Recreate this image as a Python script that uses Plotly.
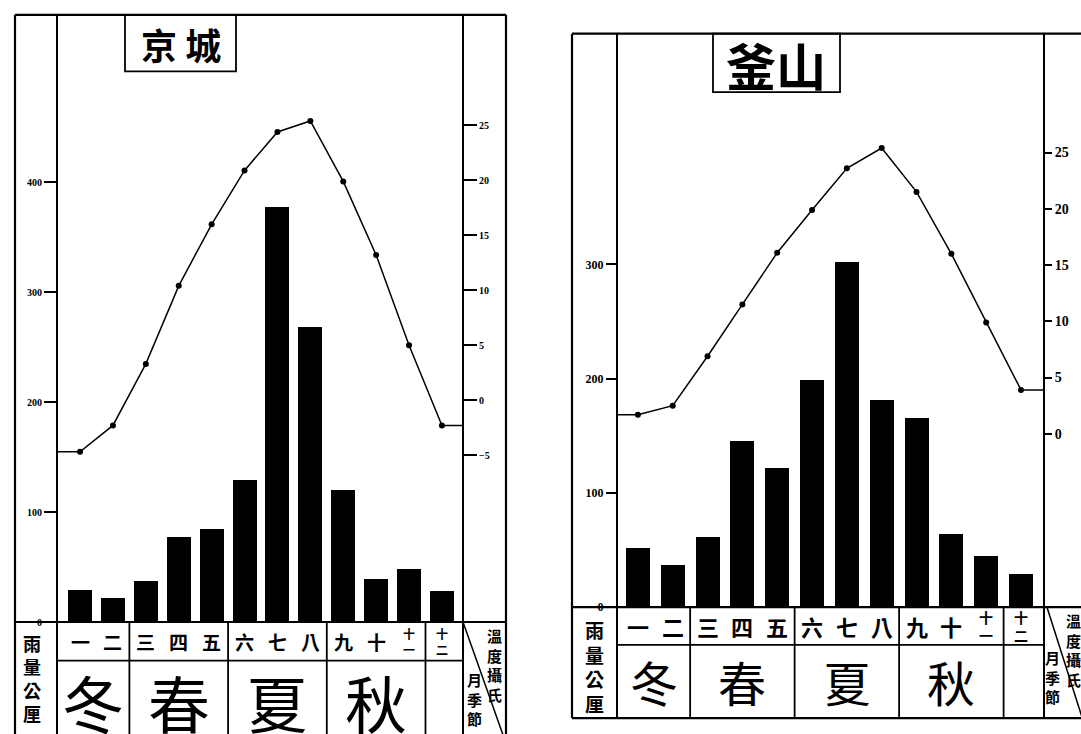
import plotly.graph_objects as go

W, H = 1081, 734

# ---- data -------------------------------------------------------------
months = list(range(1, 13))
month_labels = ["一", "二", "三", "四", "五", "六", "七", "八", "九", "十", "十<br>一", "十<br>二"]
seasons = ["冬", "春", "夏", "秋"]
season_edges = [2.5, 5.5, 8.5, 11.5]          # boundaries between season groups

# 京城: monthly rainfall (mm) and mean temperature (°C)
seoul_rain = [29, 22, 37, 77, 85, 129, 377, 268, 120, 39, 48, 28]
seoul_temp = [-4.7, -2.3, 3.3, 10.4, 16.0, 20.9, 24.4, 25.4, 19.9, 13.2, 5.0, -2.3]

# 釜山
busan_rain = [52, 37, 62, 146, 122, 199, 302, 182, 166, 64, 45, 29]
busan_temp = [1.7, 2.5, 6.9, 11.5, 16.1, 19.9, 23.6, 25.4, 21.5, 16.0, 9.9, 3.9]

seoul_rain_ticks = [0, 100, 200, 300, 400]
seoul_temp_ticks = [-5, 0, 5, 10, 15, 20, 25]
busan_rain_ticks = [0, 100, 200, 300]
busan_temp_ticks = [0, 5, 10, 15, 20, 25]

CJK = "Noto Sans CJK TC"
NUM = "Liberation Serif"
INK = "black"


def px(x):
    return x / W


def py(y):
    return 1 - y / H


panels = [
    dict(title="京 城", rain=seoul_rain, temp=seoul_temp, xa="x", ya="y", ya2="y2",
         left=15, right=506, axl=57, axr=463, top=15, table=628, mrow=667, bottom=770,
         xr=(0.30, 12.64), rr=(0, 552), tr=(-20.18, 35.05), bw=0.73,
         rticks=seoul_rain_ticks, tticks=seoul_temp_ticks,
         tbox=(125, 15, 236, 72), tsize=36, tpos=(181, 44),
         mfont=19, sfont_stack=12, sfont=62, sy=709,
         rfont=10, tfont=10, rlen=12, tlen=13,
         lcol_font=18, lcol_x=32, lcol_y=635,
         temp_lab=(494, 630, 15), month_lab=(474, 674, 15), diag=((463, 628), (503, 742))),
    dict(title="釜山", rain=busan_rain, temp=busan_temp, xa="x3", ya="y3", ya2="y4",
         left=572, right=None, axl=617, axr=1044, top=34, table=613, mrow=651, bottom=725,
         xr=(0.40, 12.66), rr=(0, 502), tr=(-15.4, 35.56), bw=0.69,
         rticks=busan_rain_ticks, tticks=busan_temp_ticks,
         tbox=(713, 34, 840, 93), tsize=50, tpos=(776, 65),
         mfont=22, sfont_stack=14, sfont=48, sy=688,
         rfont=12, tfont=14, rlen=10, tlen=7,
         lcol_font=19, lcol_x=594, lcol_y=621,
         temp_lab=(1073, 615, 15), month_lab=(1052, 652, 15), diag=((1047, 613), (1082, 724))),
]

fig = go.Figure()
shapes, annotations = [], []


def line(x0, y0, x1, y1, w=2.0, xref="paper"):
    shapes.append(dict(type="line", xref=xref, yref="paper",
                       x0=x0, y0=y0, x1=x1, y1=y1,
                       line=dict(color=INK, width=w)))


for p in panels:
    xa, ya, ya2 = p["xa"], p["ya"], p["ya2"]
    xlo, xhi = p["xr"]

    # rainfall bars
    fig.add_trace(go.Bar(x=months, y=p["rain"], width=p["bw"], xaxis=xa, yaxis=ya,
                         marker=dict(color=INK, line=dict(width=0))))
    # temperature curve, carried flat out to both axes
    fig.add_trace(go.Scatter(x=[xlo] + months + [xhi],
                             y=[p["temp"][0]] + p["temp"] + [p["temp"][-1]],
                             xaxis=xa, yaxis=ya2, mode="lines",
                             line=dict(color=INK, width=1.5), cliponaxis=False))
    fig.add_trace(go.Scatter(x=months, y=p["temp"], xaxis=xa, yaxis=ya2, mode="markers",
                             marker=dict(color=INK, size=6), cliponaxis=False))

    # frame
    right_edge = p["right"] if p["right"] is not None else W + 5
    line(px(p["left"]), py(p["top"]), px(right_edge), py(p["top"]), 2.2)
    line(px(p["left"]), py(p["top"]), px(p["left"]), py(p["bottom"]), 2.2)
    if p["right"] is not None:
        line(px(p["right"]), py(p["top"]), px(p["right"]), py(p["bottom"]), 2.2)
    else:
        line(px(p["left"]), py(p["bottom"]), px(right_edge), py(p["bottom"]), 2.2)
    line(px(p["axl"]), py(p["top"]), px(p["axl"]), py(p["bottom"]), 2.0)
    line(px(p["axr"]), py(p["top"]), px(p["axr"]), py(p["bottom"]), 2.0)

    # month / season table
    line(px(p["left"]), py(p["table"]), px(right_edge), py(p["table"]), 2.2)
    line(px(p["axl"]), py(p["mrow"]), px(p["axr"]), py(p["mrow"]), 1.8)
    for e in season_edges:
        shapes.append(dict(type="line", xref=xa, yref="paper", x0=e, x1=e,
                           y0=py(p["table"]), y1=py(p["bottom"]),
                           line=dict(color=INK, width=1.8)))
    (dx0, dy0), (dx1, dy1) = p["diag"]
    line(px(dx0), py(dy0), px(dx1), py(dy1), 1.5)

    # title box
    bx0, by0, bx1, by1 = p["tbox"]
    shapes.append(dict(type="rect", xref="paper", yref="paper",
                       x0=px(bx0), y0=py(by0), x1=px(bx1), y1=py(by1),
                       line=dict(color=INK, width=1.8)))
    annotations.append(dict(text=p["title"], xref="paper", yref="paper",
                            x=px(p["tpos"][0]), y=py(p["tpos"][1]), showarrow=False,
                            xanchor="center", yanchor="middle",
                            font=dict(family=CJK, size=p["tsize"], color=INK, weight="bold")))

    # month labels
    mid_y = (p["table"] + p["mrow"]) / 2
    for m, lab in zip(months, month_labels):
        stacked = "<br>" in lab
        annotations.append(dict(text=lab, xref=xa, yref="paper", x=m,
                                y=py(mid_y), showarrow=False,
                                xanchor="center", yanchor="middle",
                                font=dict(family=CJK, size=p["sfont_stack"] if stacked else p["mfont"],
                                          color=INK, weight="bold")))

    # season labels
    edges = [xlo] + season_edges
    for i, s in enumerate(seasons):
        annotations.append(dict(text=s, xref=xa, yref="paper",
                                x=(edges[i] + edges[i + 1]) / 2, y=py(p["sy"]),
                                showarrow=False, xanchor="center", yanchor="middle",
                                font=dict(family=CJK, size=p["sfont"], color=INK)))

    # side column captions
    annotations.append(dict(text="雨<br>量<br>公<br>厘", xref="paper", yref="paper",
                            x=px(p["lcol_x"]), y=py(p["lcol_y"]), showarrow=False,
                            xanchor="center", yanchor="top", borderpad=0,
                            font=dict(family=CJK, size=p["lcol_font"], color=INK, weight="bold")))
    tx, ty, ts = p["temp_lab"]
    annotations.append(dict(text="溫<br>度<br>攝<br>氏", xref="paper", yref="paper",
                            x=px(tx), y=py(ty), showarrow=False, borderpad=0,
                            xanchor="center", yanchor="top",
                            font=dict(family=CJK, size=ts, color=INK, weight="bold")))
    mx, my, ms = p["month_lab"]
    annotations.append(dict(text="月<br>季<br>節", xref="paper", yref="paper",
                            x=px(mx), y=py(my), showarrow=False, borderpad=0,
                            xanchor="center", yanchor="top",
                            font=dict(family=CJK, size=ms, color=INK, weight="bold")))


def yax(p, rain=True):
    common = dict(showgrid=False, zeroline=False, showline=False, ticks="outside",
                  tickcolor=INK, tickwidth=1.5, fixedrange=True)
    dom = [py(p["table"]), py(p["top"])]
    if rain:
        return dict(domain=dom, range=list(p["rr"]), anchor=p["xa"], side="left",
                    tickvals=p["rticks"], ticklen=p["rlen"],
                    tickfont=dict(family=NUM, size=p["rfont"], color=INK, weight="bold"),
                    **common)
    return dict(range=list(p["tr"]), anchor=p["xa"], side="right",
                overlaying=p["ya"], tickvals=p["tticks"], ticklen=p["tlen"],
                tickfont=dict(family=NUM, size=p["tfont"], color=INK, weight="bold"),
                **common)


def xax(p):
    return dict(domain=[px(p["axl"]), px(p["axr"])], range=list(p["xr"]),
                anchor=p["ya"], visible=False, fixedrange=True)


a, b = panels
fig.update_layout(
    width=W, height=H,
    margin=dict(l=0, r=0, t=0, b=0),
    paper_bgcolor="white", plot_bgcolor="rgba(0,0,0,0)",
    showlegend=False, bargap=0,
    xaxis=xax(a), yaxis=yax(a, True), yaxis2=yax(a, False),
    xaxis3=xax(b), yaxis3=yax(b, True), yaxis4=yax(b, False),
    shapes=shapes, annotations=annotations,
)

fig.write_html("out.html")
